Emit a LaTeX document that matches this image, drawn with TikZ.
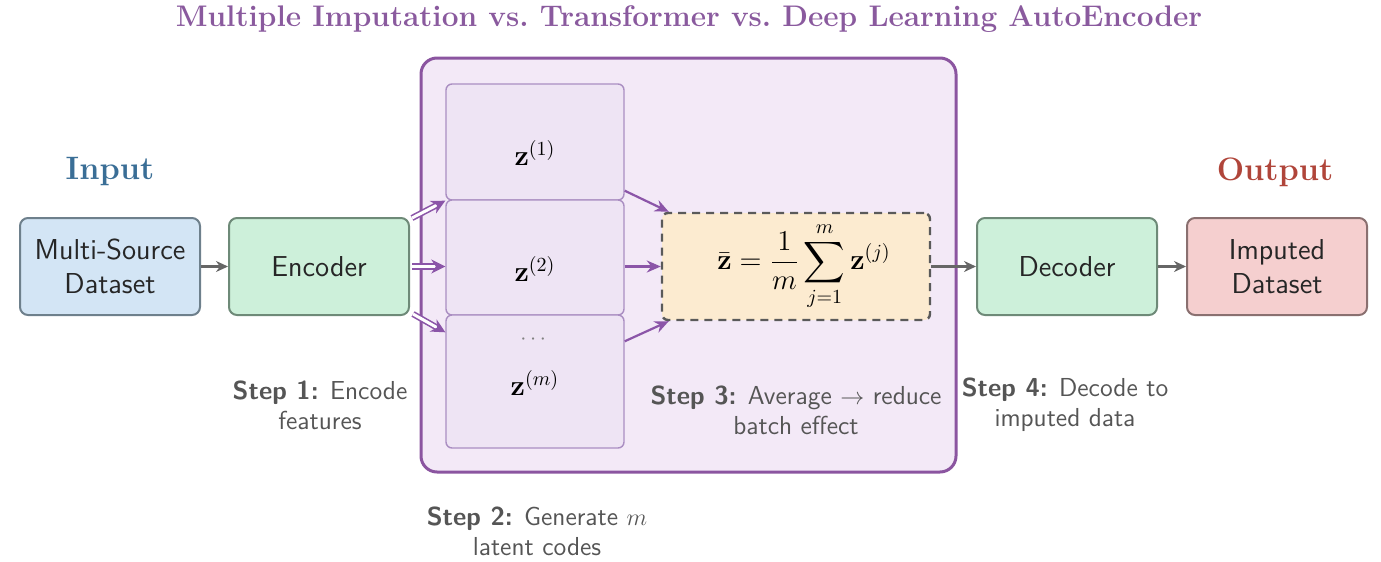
\documentclass[tikz,border=0pt]{standalone}
\usepackage{amsmath}
\usetikzlibrary{arrows.meta,calc}
\definecolor{titlepurple}{HTML}{8A5A9E}
\definecolor{inblue}{HTML}{3A6E96}
\definecolor{outred}{HTML}{B0453A}
\definecolor{msfill}{HTML}{D3E5F5}
\definecolor{msdraw}{HTML}{6E808C}
\definecolor{encfill}{HTML}{CDF0DA}
\definecolor{encdraw}{HTML}{6E8A78}
\definecolor{impfill}{HTML}{F5CFCF}
\definecolor{impdraw}{HTML}{8A7070}
\definecolor{frmfill}{HTML}{FCEBD0}
\definecolor{frmdraw}{HTML}{5A5A5A}
\definecolor{contfill}{HTML}{F3E9F7}
\definecolor{contdraw}{HTML}{8B55A0}
\definecolor{zfill}{HTML}{EEE4F4}
\definecolor{zdraw}{HTML}{AA8EC2}
\definecolor{arrpurple}{HTML}{8B55A8}
\definecolor{arrgray}{HTML}{666666}
\definecolor{steptext}{HTML}{555555}
\tikzset{
  mainbox/.style={rectangle, rounded corners=4pt, line width=1pt,
    minimum width=90pt, minimum height=48.5pt, align=center,
    font=\sffamily\fontsize{14.4}{17}\selectfont, text=black!85},
  zbox/.style={rectangle, rounded corners=3pt, line width=0.7pt,
    draw=zdraw, fill=zfill, minimum width=89pt, inner sep=0pt},
  steplabel/.style={align=center, text=steptext,
    font=\sffamily\fontsize{13}{15}\selectfont},
  grayarrow/.style={-{Stealth[length=6pt,width=5.5pt]}, line width=1.3pt, draw=arrgray},
  purplearrow/.style={-{Stealth[length=7pt,width=6pt]}, line width=1.1pt, draw=arrpurple},
  dblarrow/.style={-{Stealth[length=7pt,width=7pt]}, draw=arrpurple, line width=0.8pt,
    double=white, double distance=1.5pt},
  zlabel/.style={font=\fontsize{14.4}{17}\selectfont, inner sep=0pt}
}
\begin{document}
\begin{tikzpicture}[x=0.5pt,y=-0.5pt]
\useasboundingbox (0,0) rectangle (1381,562);
% title
\node[font=\bfseries\fontsize{14.9}{17}\selectfont, text=titlepurple] (title) at (689,19)
  {Multiple Imputation vs.\ Transformer vs.\ Deep Learning AutoEncoder};
\node[font=\bfseries\fontsize{16.2}{19}\selectfont, text=inblue] (inlab) at (110,172) {Input};
\node[font=\bfseries\fontsize{16.2}{19}\selectfont, text=outred] (outlab) at (1275,172) {Output};
% container
\draw[line width=1.5pt, draw=contdraw, fill=contfill, rounded corners=8pt]
  (421,58) rectangle (956,472);
% z boxes
\node[zbox, minimum height=58pt] (z1) at (535,142) {};
\node[zbox, minimum height=57.5pt] (z2) at (535,257.5) {};
\node[zbox, minimum height=66.5pt] (zm) at (535,381.5) {};
\node[zlabel] (z1t) at (535,153) {$\mathbf{z}^{(1)}$};
\node[zlabel] (z2t) at (535,269) {$\mathbf{z}^{(2)}$};
\node[font=\fontsize{11}{13}\selectfont, text=black!50, inner sep=0pt] (zdots) at (535,340) {$\cdots$};
\node[zlabel] (zmt) at (535,383) {$\mathbf{z}^{(m)}$};
% main boxes
\node[mainbox, draw=msdraw, fill=msfill] (ms) at (110,266.5) {Multi-Source\\Dataset};
\node[mainbox, draw=encdraw, fill=encfill] (enc) at (319,266.5) {Encoder};
\node[mainbox, draw=encdraw, fill=encfill] (dec) at (1067,266.5) {Decoder};
\node[mainbox, draw=impdraw, fill=impfill] (imp) at (1277,266.5) {Imputed\\Dataset};
% formula
\node[rectangle, rounded corners=3pt, draw=frmdraw, fill=frmfill, line width=1.2pt,
  dash pattern=on 4pt off 3pt, minimum width=134pt, minimum height=53.5pt,
  font=\fontsize{14.4}{17}\selectfont] (frm) at (796,266.5)
  {\hspace*{8pt}$\displaystyle \bar{\mathbf{z}} = \frac{1}{m}\sum_{j=1}^{m}\mathbf{z}^{(j)}$};
% arrows
\draw[grayarrow] (ms.east) -- (enc.west);
\draw[grayarrow] (frm.east) -- (dec.west);
\draw[grayarrow] (dec.east) -- (imp.west);
\draw[dblarrow] ($(enc.north east)+(2,1)$) -- (z1.south west);
\draw[dblarrow] ($(enc.east)+(2,0)$) -- (z2.west |- enc.east);
\draw[dblarrow] ($(enc.south east)+(3,-2)$) -- ($(zm.north west)+(0,18)$);
\draw[purplearrow] ($(z1.south east)+(0,-10)$) -- ($(frm.north west)+(8,0)$);
\draw[purplearrow] (z2.east |- frm.west) -- (frm.west);
\draw[purplearrow] ($(zm.north east)+(0,27)$) -- ($(frm.south west)+(8,0)$);
% step labels
\node[steplabel] (s1) at (320,405) {\textbf{Step 1:} Encode\\features};
\node[steplabel] (s2) at (537,531) {\textbf{Step 2:} Generate $m$\\latent codes};
\node[steplabel] (s3) at (796,410) {\textbf{Step 3:} Average $\rightarrow$ reduce\\batch effect};
\node[steplabel] (s4) at (1065,405) {\textbf{Step 4:} Decode to\\imputed data};
\end{tikzpicture}
\end{document}
